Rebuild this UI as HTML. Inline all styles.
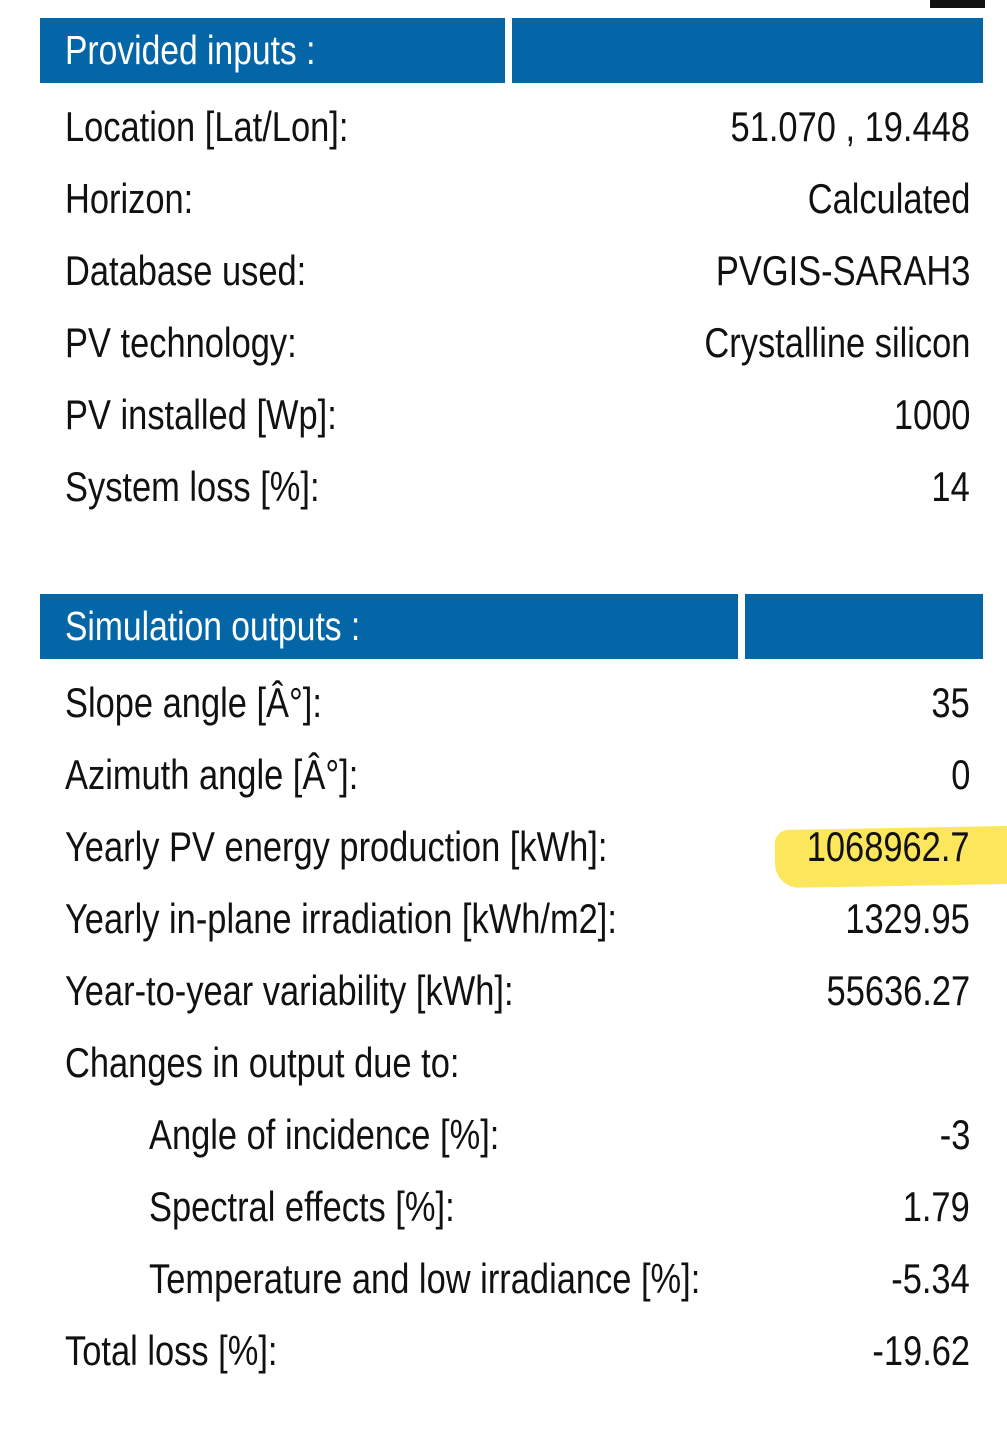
<!DOCTYPE html>
<html><head><meta charset="utf-8">
<style>
html,body{margin:0;padding:0;background:#fff;}
body{width:1007px;height:1441px;position:relative;overflow:hidden;font-family:"Liberation Sans",sans-serif;color:#111;}
.hdr{position:absolute;background:#0566a7;height:65px;}
.ht{position:absolute;color:#fff;font-size:41px;line-height:65px;left:25px;top:0;white-space:nowrap;transform:scaleX(0.82);transform-origin:left center;}
.row{position:absolute;left:65px;width:905px;height:72px;line-height:72px;font-size:42px;white-space:nowrap;}
.row .l{position:absolute;left:0;transform:scaleX(0.82);transform-origin:left center;}
.row .v{position:absolute;right:0;transform:scaleX(0.82);transform-origin:right center;}
.ind .l{left:84px;}
</style></head><body>
<div style="position:absolute;left:930px;top:0;width:55px;height:8px;background:#111;"></div>

<div class="hdr" style="left:40px;top:18px;width:465px;"><span class="ht">Provided inputs :</span></div>
<div class="hdr" style="left:512px;top:18px;width:471px;"></div>

<div class="row" style="top:91px"><span class="l">Location [Lat/Lon]:</span><span class="v">51.070 , 19.448</span></div>
<div class="row" style="top:163px"><span class="l">Horizon:</span><span class="v">Calculated</span></div>
<div class="row" style="top:235px"><span class="l">Database used:</span><span class="v">PVGIS-SARAH3</span></div>
<div class="row" style="top:307px"><span class="l">PV technology:</span><span class="v">Crystalline silicon</span></div>
<div class="row" style="top:379px"><span class="l">PV installed [Wp]:</span><span class="v">1000</span></div>
<div class="row" style="top:451px"><span class="l">System loss [%]:</span><span class="v">14</span></div>

<div class="hdr" style="left:40px;top:594px;width:698px;"><span class="ht">Simulation outputs :</span></div>
<div class="hdr" style="left:745px;top:594px;width:238px;"></div>

<div style="position:absolute;left:775px;top:828px;width:240px;height:58px;background:#fbe34a;border-radius:14px 0 0 24px;transform:rotate(-1deg);opacity:.9;"></div>

<div class="row" style="top:667px"><span class="l">Slope angle [Â°]:</span><span class="v">35</span></div>
<div class="row" style="top:739px"><span class="l">Azimuth angle [Â°]:</span><span class="v">0</span></div>
<div class="row" style="top:811px"><span class="l">Yearly PV energy production [kWh]:</span><span class="v">1068962.7</span></div>
<div class="row" style="top:883px"><span class="l">Yearly in-plane irradiation [kWh/m2]:</span><span class="v">1329.95</span></div>
<div class="row" style="top:955px"><span class="l">Year-to-year variability [kWh]:</span><span class="v">55636.27</span></div>
<div class="row" style="top:1027px"><span class="l">Changes in output due to:</span></div>
<div class="row ind" style="top:1099px"><span class="l">Angle of incidence [%]:</span><span class="v">-3</span></div>
<div class="row ind" style="top:1171px"><span class="l">Spectral effects [%]:</span><span class="v">1.79</span></div>
<div class="row ind" style="top:1243px"><span class="l">Temperature and low irradiance [%]:</span><span class="v">-5.34</span></div>
<div class="row" style="top:1315px"><span class="l">Total loss [%]:</span><span class="v">-19.62</span></div>
</body></html>
